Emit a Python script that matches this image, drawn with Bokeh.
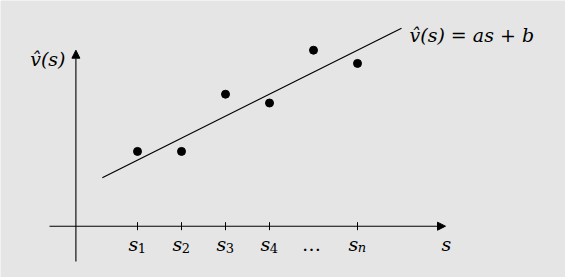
import math
from bokeh.plotting import figure
from bokeh.models import Arrow, NormalHead
from bokeh.core.properties import value
from bokeh.embed import file_html
from bokeh.resources import INLINE

# ---- data ----
s_idx = [1, 2, 3, 4, 5, 6]                 # sample positions s_1 ... s_n
v_obs = [1.7, 1.7, 3.0, 2.8, 4.0, 3.7]     # observed values
fit_a = 0.5                                # slope a
fit_b = 1.0                                # intercept b
fit_x = [0.2, 7.0]                         # extent of fitted line
tick_pos = [1, 2, 3, 4, 6]
tick_base = ["s", "s", "s", "s", "s"]
tick_sub = ["1", "2", "3", "4", "n"]
dots_pos = [5]
fit_label = "v\u0302(s) = as + b"
y_label = "v\u0302(s)"
x_label = "s"

# ---- layout ----
W, H = 565, 277
U = 44.0           # pixels per unit
OX, OY = 93.0, 225.7
BG = "#e5e5e5"
SERIF = value("DejaVu Serif")

p = figure(width=W, height=H,
           x_range=(-OX / U, (W - OX) / U),
           y_range=(-(H - OY) / U, OY / U),
           output_backend="svg", toolbar_location=None,
           min_border=0, background_fill_color=BG, border_fill_color=BG,
           outline_line_color=None)
p.axis.visible = False
p.grid.visible = False

# axes with arrows
p.add_layout(Arrow(x_start=-1.0, y_start=0, x_end=8.0, y_end=0,
                   line_width=1.1, line_color="black",
                   end=NormalHead(size=8, fill_color="black", line_color="black", line_width=1)))
p.add_layout(Arrow(x_start=-0.4, y_start=-0.8, x_end=-0.4, y_end=4.0,
                   line_width=1.1, line_color="black",
                   end=NormalHead(size=8, fill_color="black", line_color="black", line_width=1)))

# ticks
p.scatter(tick_pos, [0] * len(tick_pos), marker="dash", angle=math.pi / 2,
          size=8, line_color="black", line_width=1)

# fitted line
p.line(fit_x, [fit_a * x + fit_b for x in fit_x], line_color="black", line_width=1.2)

# points
p.scatter(s_idx, v_obs, size=8, fill_color="black", line_color="black")

# tick labels
base_y = -(243 - OY) / U
p.text(x=tick_pos, y=[base_y] * len(tick_pos), text=tick_base, x_offset=-4,
       text_align="center", text_baseline="alphabetic",
       text_font=SERIF, text_font_style="italic", text_font_size="19px", text_color="black")
sub_y = -(247 - OY) / U
p.text(x=tick_pos, y=[sub_y] * len(tick_pos), text=tick_sub, x_offset=4.5,
       text_align="center", text_baseline="alphabetic",
       text_font=SERIF, text_font_style=["normal", "normal", "normal", "normal", "italic"],
       text_font_size="13px", text_color="black")
p.text(x=dots_pos, y=[base_y] * len(dots_pos), text=["\u2026"] * len(dots_pos), x_offset=-2,
       text_align="center", text_baseline="alphabetic",
       text_font=SERIF, text_font_size="19px", text_color="black")

# axis labels
p.text(x=[(446 - OX) / U], y=[base_y], text=[x_label],
       text_align="center", text_baseline="alphabetic",
       text_font=SERIF, text_font_style="italic", text_font_size="19px", text_color="black")
p.text(x=[(65 - OX) / U], y=[(OY - 58) / U], text=[y_label],
       text_align="right", text_baseline="alphabetic",
       text_font=SERIF, text_font_style="italic", text_font_size="19px", text_color="black")
p.text(x=[(409 - OX) / U], y=[(OY - 34) / U], text=[fit_label],
       text_align="left", text_baseline="alphabetic",
       text_font=SERIF, text_font_style="italic", text_font_size="19px", text_color="black")

open("out.html", "w").write(file_html(p, INLINE))
